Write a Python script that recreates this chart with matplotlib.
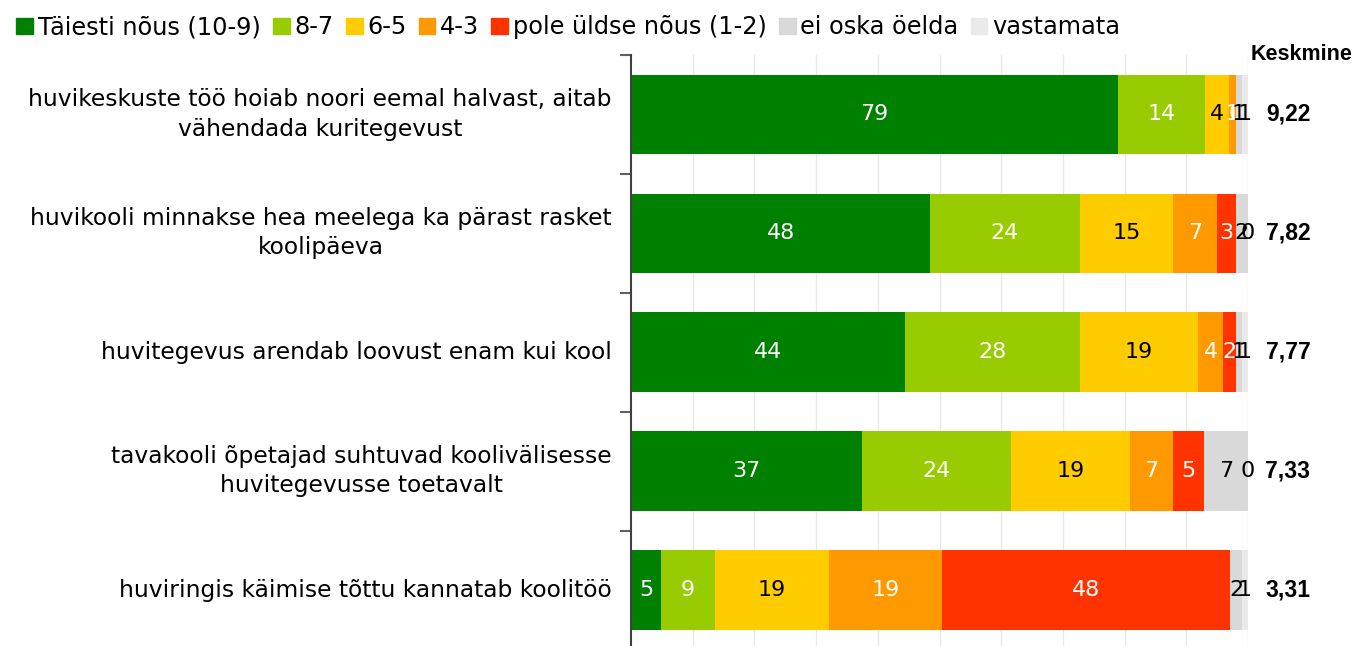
import numpy as np
import matplotlib
matplotlib.use('Agg')
import matplotlib.pyplot as plt
from matplotlib.patches import Patch
from matplotlib.transforms import blended_transform_factory


# ── Data ─────────────────────────────────────────────────────────────────────

statements = [
    "huvikeskuste töö hoiab noori eemal halvast, aitab\nvähendada kuritegevust",
    "huvikooli minnakse hea meelega ka pärast rasket\nkoolipäeva",
    "huvitegevus arendab loovust enam kui kool",
    "tavakooli õpetajad suhtuvad koolivälisesse\nhuvitegevusse toetavalt",
    "huviringis käimise tõttu kannatab koolitöö",
]

series_names = ["Täiesti nõus (10-9)", "8-7", "6-5", "4-3",
                "pole üldse nõus (1-2)", "ei oska öelda", "vastamata"]

# percentages per answer option, one list per statement (as labelled)
taiesti = [79, 48, 44, 37, 5]
s87     = [14, 24, 28, 24, 9]
s65     = [4, 15, 19, 19, 19]
s43     = [1, 7, 4, 7, 19]
pole    = [0, 3, 2, 5, 48]
ei_oska = [1, 2, 1, 7, 2]
vastamata = [1, 0, 1, 0, 1]

keskmine = ["9,22", "7,82", "7,77", "7,33", "3,31"]

colors = ["#008000", "#99cc00", "#ffcc00", "#ff9900", "#ff3300",
          "#d9d9d9", "#eaeaea"]
text_colors = ["white", "white", "black", "white", "white", "black", "black"]


# ── Figure ───────────────────────────────────────────────────────────────────

W, H = 1353, 646
fig = plt.figure(figsize=(W / 100, H / 100), dpi=100)
ax = fig.add_axes([631 / W, -3.5 / H, 617 / W, 594.5 / H])

data = np.array([taiesti, s87, s65, s43, pole, ei_oska, vastamata], float)
shares = data / data.sum(axis=0) * 100  # 100% stacked, like Excel
y = np.arange(len(statements))

left = np.zeros(len(statements))
for k in range(len(series_names)):
    ax.barh(y, shares[k], left=left, height=0.67, color=colors[k],
            label=series_names[k], zorder=2)
    for i in range(len(statements)):
        ax.text(left[i] + shares[k][i] / 2, y[i], f"{data[k][i]:.0f}",
                ha='center', va='center', fontsize=16,
                color=text_colors[k], zorder=3)
    left += shares[k]

ax.set_xlim(0, 100)
ax.set_ylim(len(statements) - 0.5, -0.5)
ax.set_xticks(np.arange(10, 101, 10))
ax.tick_params(axis='x', length=0, labelbottom=False)
ax.grid(axis='x', color='#e8e8e8', linewidth=1, zorder=0)
ax.set_yticks(np.arange(-0.5, len(statements) + 0.5, 1))
ax.tick_params(axis='y', length=8, width=1.5, color='#606060',
               labelleft=False)
for side in ['top', 'right', 'bottom']:
    ax.spines[side].set_visible(False)
ax.spines['left'].set_color('#404040')
ax.spines['left'].set_linewidth(1.5)

trans = blended_transform_factory(ax.transAxes, ax.transData)
for i, s in enumerate(statements):
    ax.text(-19 / 617, y[i], s, transform=trans, ha='right', va='center',
            multialignment='center', fontsize=16.8, linespacing=1.35)
    ax.text((1288 - 631) / 617, y[i], keskmine[i], transform=trans,
            ha='center', va='center', fontsize=16.5, fontweight='bold',
            family='Liberation Sans')

fig.text(1352 / W, 1 - 54 / H, "Keskmine", ha='right', va='center',
         fontsize=15.5, fontweight='bold', family='Liberation Sans')

handles = [Patch(color=c) for c in colors]
fig.legend(handles, series_names, loc='upper left',
           bbox_to_anchor=(2 / W, 1 - 1 / H), ncol=7, frameon=False,
           fontsize=17.3, handlelength=0.7, handleheight=0.7,
           handletextpad=0.2, columnspacing=0.5, borderaxespad=0.2)

plt.savefig("out.png", dpi=100)
plt.close()
